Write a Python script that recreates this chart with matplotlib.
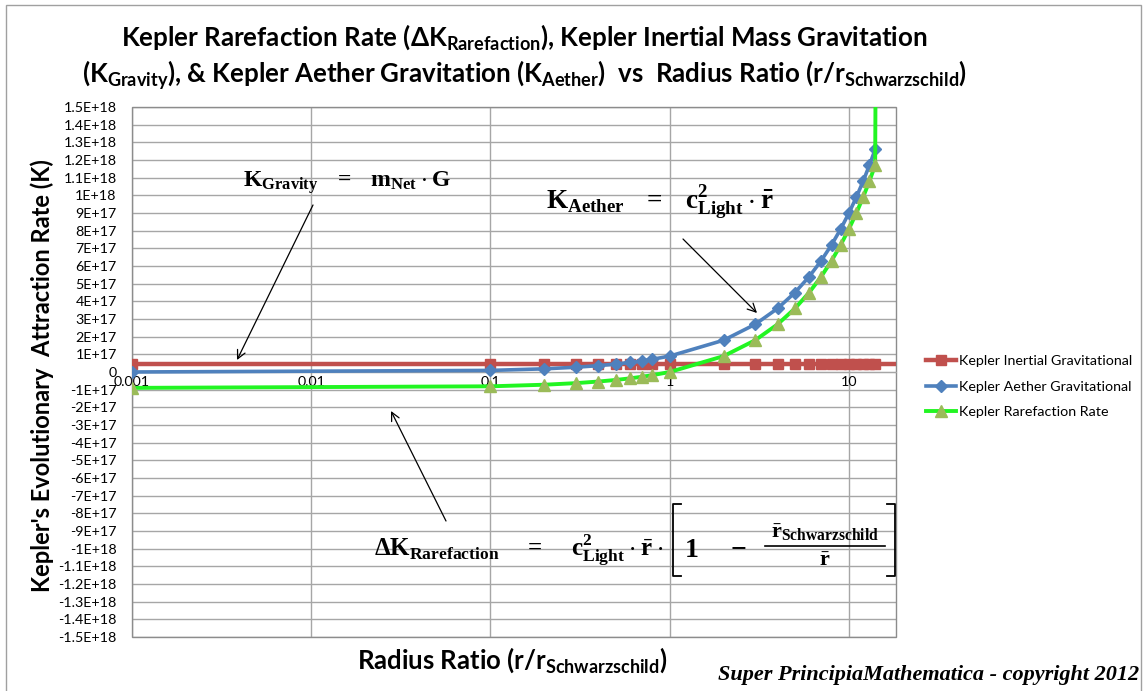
import matplotlib
matplotlib.use('Agg')
import matplotlib.pyplot as plt
from matplotlib.lines import Line2D
from matplotlib.patches import Rectangle, FancyArrowPatch

# ---------------- data ----------------
ratio = [0.001, 0.1, 0.2, 0.3, 0.4, 0.5, 0.6, 0.7, 0.8, 1,
         2, 3, 4, 5, 6, 7, 8, 9, 10, 11, 12, 13, 14]
k_inertial = [4.5e16, 4.5e16, 4.5e16, 4.5e16, 4.5e16, 4.5e16, 4.5e16, 4.5e16, 4.5e16, 4.5e16,
              4.5e16, 4.5e16, 4.5e16, 4.5e16, 4.5e16, 4.5e16, 4.5e16, 4.5e16, 4.5e16, 4.5e16,
              4.5e16, 4.5e16, 4.5e16]
k_aether = [9e13, 9e15, 1.8e16, 2.7e16, 3.6e16, 4.5e16, 5.4e16, 6.3e16, 7.2e16, 9e16,
            1.8e17, 2.7e17, 3.6e17, 4.5e17, 5.4e17, 6.3e17, 7.2e17, 8.1e17, 9e17, 9.9e17,
            1.08e18, 1.17e18, 1.26e18]
k_rarefaction = [-8.99e16, -8.1e16, -7.2e16, -6.3e16, -5.4e16, -4.5e16, -3.6e16, -2.7e16, -1.8e16, 0,
                 9e16, 1.8e17, 2.7e17, 3.6e17, 4.5e17, 5.4e17, 6.3e17, 7.2e17, 8.1e17, 9e17,
                 9.9e17, 1.08e18, 1.17e18]
# line-only end points (no markers)
inertial_tail_x, inertial_tail_y = 18.3, 4.5e16
rarefaction_tail_x, rarefaction_tail_y = 14.3, 3.0e18

x_ticks = [0.001, 0.01, 0.1, 1, 10]
x_tick_labels = ['0.001', '0.01', '0.1', '1', '10']
y_tick_steps = list(range(-15, 16))  # in units of 1E17

series_names = ['Kepler Inertial Gravitational', 'Kepler Aether Gravitational',
                'Kepler Rarefaction Rate']

# ---------------- style ----------------
W, H = 1148, 691
plt.rcParams['font.family'] = ['Lato', 'DejaVu Sans']
plt.rcParams['mathtext.default'] = 'regular'

RED = '#C0504D'
BLUE = '#4F81BD'
GREEN_LINE = '#22F522'
GREEN_MK = '#9BBB59'
GRID = '#A6A6A6'


def fx(px):
    return px / W


def fy(py):
    return 1 - py / H


fig = plt.figure(figsize=(W / 100, H / 100), dpi=100)
ax = fig.add_axes([fx(132), fy(637), fx(896) - fx(132), fy(107) - fy(637)])

ax.set_xscale('log')
ax.set_xlim(0.001, 18.3)
ax.set_ylim(-1.5e18, 1.5e18)

yt = [k * 1e17 for k in y_tick_steps]


def ylab(k):
    if k == 0:
        return '0'
    if abs(k) >= 10:
        return f'{k / 10:g}E+18'
    return f'{k}E+17'


ax.set_yticks(yt)
ax.set_yticklabels([ylab(k) for k in y_tick_steps])
ax.set_xticks(x_ticks)
ax.set_xticklabels(x_tick_labels)
ax.minorticks_off()
ax.xaxis.set_minor_locator(matplotlib.ticker.NullLocator())
ax.tick_params(axis='both', length=0, labelsize=10.3, colors='black')
ax.tick_params(axis='y', pad=11)
ax.tick_params(axis='x', pad=3)
ax.grid(True, color=GRID, lw=1)
ax.set_axisbelow(True)

for s in ['top', 'right', 'left']:
    ax.spines[s].set_visible(False)
ax.spines['bottom'].set_position(('data', 0))
ax.spines['bottom'].set_color(GRID)
ax.add_patch(Rectangle((0, 0), 1, 1, transform=ax.transAxes, fill=False,
                       edgecolor='#8C8C8C', lw=1, clip_on=False, zorder=1))

n = len(ratio)
ax.plot(ratio + [inertial_tail_x], k_inertial + [inertial_tail_y], color=RED, lw=3.2,
        marker='s', ms=7.5, mfc=RED, mec=RED, markevery=list(range(n)), zorder=3,
        solid_capstyle='butt')
ax.plot(ratio, k_aether, color=BLUE, lw=2.6, marker='D', ms=6.5, mfc=BLUE, mec=BLUE, zorder=4)
ax.plot(ratio + [rarefaction_tail_x], k_rarefaction + [rarefaction_tail_y], color=GREEN_LINE,
        lw=2.8, zorder=5)
ax.plot(ratio, k_rarefaction, ls='none', marker='^', ms=8.5, mfc=GREEN_MK, mec=GREEN_MK, zorder=6)

# legend
handles = [
    Line2D([], [], color=RED, lw=3.2, marker='s', ms=7.5, mfc=RED, mec=RED),
    Line2D([], [], color=BLUE, lw=2.6, marker='D', ms=6, mfc=BLUE, mec=BLUE),
    Line2D([], [], color=GREEN_LINE, lw=2.8, marker='^', ms=8, mfc=GREEN_MK, mec=GREEN_MK),
]
fig.legend(handles, series_names, loc='upper left', bbox_to_anchor=(fx(926), fy(355)),
           frameon=False, fontsize=10.3, handlelength=2.1, handletextpad=0.2,
           labelspacing=0.95, borderpad=0, borderaxespad=0)

# title
fig.text(fx(524), fy(37), r'Kepler Rarefaction Rate ($\Delta$K$_{Rarefaction}$), Kepler Inertial Mass Gravitation',
         ha='center', va='center', fontsize=18.6, fontweight='bold')
fig.text(fx(525), fy(75), r'(K$_{Gravity}$), & Kepler Aether Gravitation (K$_{Aether}$)  vs  Radius Ratio (r/r$_{Schwarzschild}$)',
         ha='center', va='center', fontsize=18.6, fontweight='bold')

# axis labels
fig.text(fx(42), fy(376), "Kepler's Evolutionary  Attraction Rate (K)", rotation=90,
         ha='center', va='center', fontsize=17, fontweight='bold')
fig.text(fx(512), fy(660), r'Radius Ratio (r/r$_{Schwarzschild}$)',
         ha='center', va='center', fontsize=18.5, fontweight='bold')

# formulas
serif = dict(family='Liberation Serif', fontweight='bold')
fig.text(fx(243), fy(187), r'$K_{Gravity}\ \ =\ \ m_{Net}\cdot G$', ha='left', va='baseline',
         fontsize=17, **serif)
fig.text(fx(546), fy(208), r'$K_{Aether}\ \ =\ \ c^{2}_{Light}\cdot\bar{r}$', ha='left', va='baseline',
         fontsize=19.5, **serif)
fig.text(fx(374), fy(557), r'$\Delta K_{Rarefaction}\ \ \ =\ \ \ c^{2}_{Light}\cdot\bar{r}\cdot$', ha='left',
         va='baseline', fontsize=18, **serif)
fig.text(fx(684), fy(557), r'$1\ \ \ -$', ha='left', va='baseline', fontsize=20, **serif)
fig.text(fx(825), fy(538), r'$\bar{r}_{Schwarzschild}$', ha='center', va='baseline', fontsize=16, **serif)
fig.text(fx(825), fy(566), r'$\bar{r}$', ha='center', va='baseline', fontsize=16, **serif)
fig.add_artist(Line2D([fx(765), fx(885)], [fy(546), fy(546)], color='black', lw=1.2))
# brackets
for xs, sgn in [(673, 1), (895, -1)]:
    fig.add_artist(Line2D([fx(xs + 8 * sgn), fx(xs), fx(xs), fx(xs + 8 * sgn)],
                          [fy(504), fy(504), fy(576), fy(576)], color='black', lw=1.3))

# arrows
for (x0, y0), (x1, y1) in [((313, 205), (237, 360)), ((683, 239), (757, 313)), ((446, 521), (391, 411))]:
    fig.add_artist(FancyArrowPatch((fx(x0), fy(y0)), (fx(x1), fy(y1)), transform=fig.transFigure,
                                   arrowstyle='->,head_length=6,head_width=3', color='black', lw=0.9,
                                   mutation_scale=1, shrinkA=0, shrinkB=0))

# copyright
fig.text(fx(1139), fy(675), 'Super PrincipiaMathematica - copyright 2012', ha='right', va='center',
         fontsize=16, family='Liberation Serif', fontweight='bold', fontstyle='italic')

# outer border
fig.add_artist(Rectangle((fx(6), fy(700)), fx(1141) - fx(6), fy(5) - fy(700), transform=fig.transFigure,
                         fill=False, edgecolor='#A0A0A0', lw=1))

fig.savefig('out.png', dpi=100)
